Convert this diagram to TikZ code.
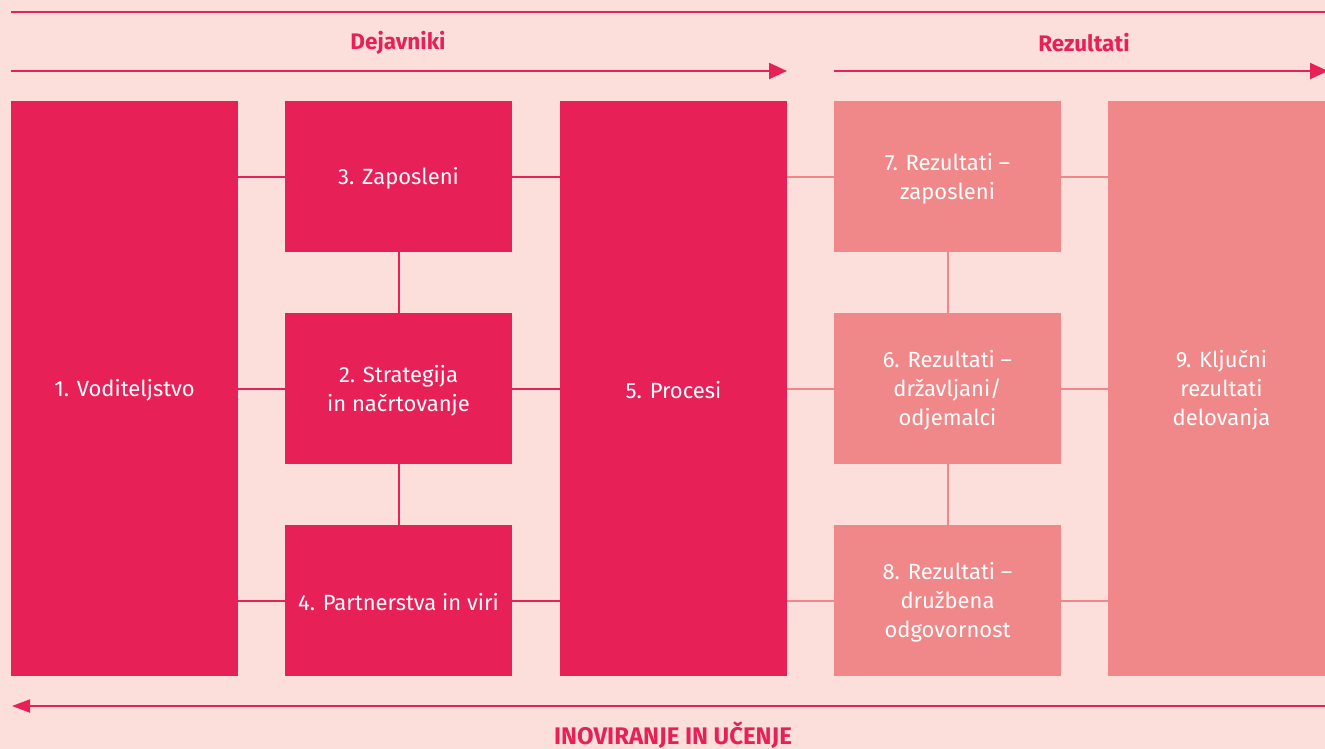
\documentclass[tikz,border=0pt]{standalone}
\usepackage{fontspec}
\setmainfont{Fira Sans}
\usetikzlibrary{arrows.meta}
\definecolor{darkpink}{HTML}{E82058}
\definecolor{salmon}{HTML}{F08789}
\definecolor{bgpink}{HTML}{FCDEDB}
\begin{document}
\begin{tikzpicture}[x=1pt,y=-1pt,
  boxbase/.style={draw=none,inner sep=0pt,minimum width=227pt},
  darkbox/.style={boxbase,fill=darkpink},
  lightbox/.style={boxbase,fill=salmon},
  tallbox/.style={minimum height=575pt},
  smallbox/.style={minimum height=151pt},
  boxtext/.style={text=white,align=center,inner sep=0pt,font=\fontsize{22}{29}\selectfont},
  darkline/.style={draw=darkpink,line width=2pt},
  lightline/.style={draw=salmon,line width=2pt},
  flowarrow/.style={draw=darkpink,line width=2pt,-{Triangle[length=18pt,width=16pt]}},
  backarrow/.style={draw=darkpink,line width=2pt,-{Triangle[length=18pt,width=13pt]}},
  headtext/.style={text=darkpink,font=\fontsize{22.5}{26}\selectfont\bfseries},
  foottext/.style={text=darkpink,font=\fontsize{24}{26}\selectfont\bfseries}
]
\clip (0,0) rectangle (1325,749);
\fill[bgpink] (0,0) rectangle (1325,749);

% top rule
\coordinate (tl) at (11,12);
\coordinate (tr) at (1330,12);
\draw[darkline] (tl) -- (tr);

% headers
\node[headtext] (hdej) at (398,43) {Dejavniki};
\node[headtext] (hrez) at (1084,43) {Rezultati};
\coordinate (a1s) at (11,71);
\coordinate (a1e) at (787,71);
\coordinate (a2s) at (834,71);
\coordinate (a2e) at (1328,71);
\draw[flowarrow] (a1s) -- (a1e);
\draw[flowarrow] (a2s) -- (a2e);

% boxes
\node[darkbox,tallbox] (b1) at (124.5,388.5) {};
\node[darkbox,smallbox] (b3) at (398.5,176.5) {};
\node[darkbox,smallbox] (b2) at (398.5,388.5) {};
\node[darkbox,smallbox] (b4) at (398.5,600.5) {};
\node[darkbox,tallbox] (b5) at (673.5,388.5) {};
\node[lightbox,smallbox] (b7) at (947.5,176.5) {};
\node[lightbox,smallbox] (b6) at (947.5,388.5) {};
\node[lightbox,smallbox] (b8) at (947.5,600.5) {};
\node[lightbox,tallbox] (b9) at (1221.5,388.5) {};

% box texts
\node[boxtext] (t1) at ([yshift=-2pt]b1.center) {1. Voditeljstvo};
\node[boxtext] (t3) at ([yshift=-2pt]b3.center) {3. Zaposleni};
\node[boxtext] (t2) at ([yshift=-2pt]b2.center) {2. Strategija\\in načrtovanje};
\node[boxtext] (t4) at ([yshift=-2pt]b4.center) {4. Partnerstva in viri};
\node[boxtext] (t5) at ([yshift=-2pt]b5.center) {5. Procesi};
\node[boxtext] (t7) at ([yshift=-2pt]b7.center) {7. Rezultati –\\zaposleni};
\node[boxtext] (t6) at ([yshift=-2pt]b6.center) {6. Rezultati –\\državljani/\\odjemalci};
\node[boxtext] (t8) at ([yshift=-2pt]b8.center) {8. Rezultati –\\družbena\\odgovornost};
\node[boxtext] (t9) at ([yshift=-2pt]b9.center) {9. Ključni\\rezultati\\delovanja};

% connectors left
\draw[darkline] (b3.west -| b1.east) -- (b3.west);
\draw[darkline] (b2.west -| b1.east) -- (b2.west);
\draw[darkline] (b4.west -| b1.east) -- (b4.west);
\draw[darkline] (b3.east) -- (b3.east -| b5.west);
\draw[darkline] (b2.east) -- (b2.east -| b5.west);
\draw[darkline] (b4.east) -- (b4.east -| b5.west);
\draw[darkline] (b3.south) -- (b2.north);
\draw[darkline] (b2.south) -- (b4.north);

% connectors right
\draw[lightline] (b7.west -| b5.east) -- (b7.west);
\draw[lightline] (b6.west -| b5.east) -- (b6.west);
\draw[lightline] (b8.west -| b5.east) -- (b8.west);
\draw[lightline] (b7.east) -- (b7.east -| b9.west);
\draw[lightline] (b6.east) -- (b6.east -| b9.west);
\draw[lightline] (b8.east) -- (b8.east -| b9.west);
\draw[lightline] (b7.south) -- (b6.north);
\draw[lightline] (b6.south) -- (b8.north);

% bottom arrow
\coordinate (a3s) at (1330,706);
\coordinate (a3e) at (12,706);
\draw[backarrow] (a3s) -- (a3e);
\node[foottext] (hino) at (673,735) {INOVIRANJE IN UČENJE};
\end{tikzpicture}
\end{document}
